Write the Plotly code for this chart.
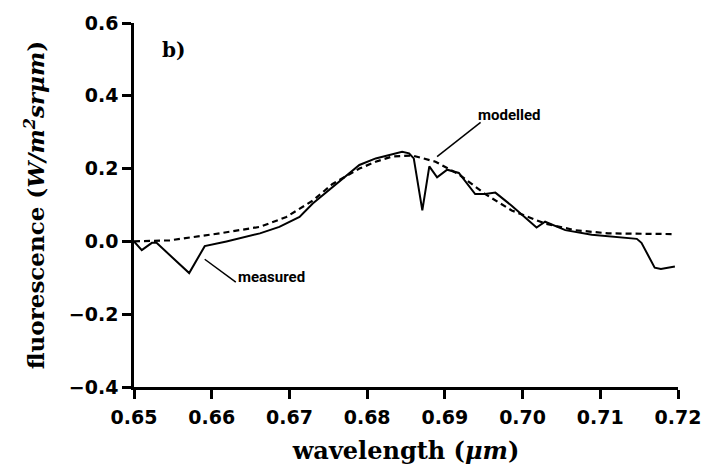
import plotly.graph_objects as go

# Measured fluorescence spectrum (solid line)
measured_wl = [0.6500, 0.6510, 0.6523, 0.6529, 0.6571, 0.6591, 0.6619, 0.6636,
               0.6662, 0.6687, 0.6713, 0.6730, 0.6755, 0.6790, 0.6811, 0.6845,
               0.6854, 0.6860, 0.6871, 0.6880, 0.6890, 0.6903, 0.6918, 0.6939,
               0.6952, 0.6965, 0.6986, 0.7018, 0.7029, 0.7055, 0.7089, 0.7114,
               0.7147, 0.7153, 0.7170, 0.7178, 0.7196]
measured_fl = [0.000, -0.024, -0.004, -0.004, -0.087, -0.013, 0.000, 0.009,
               0.022, 0.040, 0.067, 0.104, 0.148, 0.210, 0.228, 0.246,
               0.242, 0.228, 0.085, 0.206, 0.176, 0.197, 0.188, 0.130,
               0.130, 0.134, 0.098, 0.038, 0.054, 0.031, 0.018, 0.013,
               0.007, -0.004, -0.072, -0.076, -0.069]

# Modelled fluorescence spectrum (dashed line)
modelled_wl = [0.6500, 0.6546, 0.6610, 0.6662, 0.6696, 0.6730, 0.6755, 0.6790,
               0.6811, 0.6832, 0.6858, 0.6888, 0.6918, 0.6952, 0.6986, 0.7029,
               0.7067, 0.7110, 0.7196]
modelled_fl = [0.000, 0.003, 0.022, 0.040, 0.067, 0.112, 0.157, 0.200,
               0.219, 0.233, 0.236, 0.219, 0.184, 0.130, 0.085, 0.049,
               0.031, 0.022, 0.020]

x_ticks = [0.65, 0.66, 0.67, 0.68, 0.69, 0.70, 0.71, 0.72]
x_tick_text = ["0.65", "0.66", "0.67", "0.68", "0.69", "0.70", "0.71", "0.72"]
y_ticks = [-0.4, -0.2, 0.0, 0.2, 0.4, 0.6]
y_tick_text = ["\u22120.4", "\u22120.2", "0.0", "0.2", "0.4", "0.6"]

serif = "DejaVu Serif, Liberation Serif, serif"
tick_font = dict(family="DejaVu Sans, Liberation Sans, sans-serif", size=19,
                 color="black", weight="bold")
label_font = dict(family="Roboto, Liberation Sans, sans-serif",
                  size=15, color="black", weight="bold")

fig = go.Figure()
fig.add_trace(go.Scatter(x=modelled_wl, y=modelled_fl, mode="lines",
                         line=dict(color="black", width=2.2, dash="6px,4px"),
                         showlegend=False, hoverinfo="skip"))
fig.add_trace(go.Scatter(x=measured_wl, y=measured_fl, mode="lines",
                         line=dict(color="black", width=2),
                         showlegend=False, hoverinfo="skip"))

# Labels with leader lines
fig.add_annotation(x=0.6551, y=0.525, text="b)", showarrow=False,
                   font=dict(family=serif, size=20, color="black", weight="bold"))
fig.add_annotation(x=0.6983, y=0.348, text="modelled", showarrow=False,
                   font=label_font)
fig.add_annotation(x=0.6677, y=-0.098, text="measured", showarrow=False,
                   font=label_font)
fig.add_shape(type="line", x0=0.6946, y0=0.327, x1=0.6890, y1=0.233,
              line=dict(color="black", width=1.5))
fig.add_shape(type="line", x0=0.6631, y0=-0.112, x1=0.6591, y1=-0.049,
              line=dict(color="black", width=1.5))

fig.update_layout(
    width=713, height=472,
    margin=dict(l=134, r=33, t=16, b=84),
    paper_bgcolor="white", plot_bgcolor="white",
    xaxis=dict(
        range=[0.65, 0.72], tickvals=x_ticks, ticktext=x_tick_text,
        showgrid=False, zeroline=False, showline=True, linecolor="black",
        linewidth=2.5, ticks="outside", ticklen=9, tickwidth=2.5,
        tickcolor="black", tickfont=tick_font, ticklabelstandoff=2,
        title=dict(text="wavelength (<i>\u03bcm</i>)",
                   font=dict(family=serif, size=24, color="black", weight="bold"),
                   standoff=16),
    ),
    yaxis=dict(
        range=[-0.4, 0.6], tickvals=y_ticks, ticktext=y_tick_text,
        showgrid=False, zeroline=False, showline=True, linecolor="black",
        linewidth=2.5, ticks="outside", ticklen=9, tickwidth=2.5,
        tickcolor="black", tickfont=tick_font,
        title=dict(text="fluorescence (<i>W/m<sup>2</sup>sr\u03bcm</i>)",
                   font=dict(family=serif, size=23, color="black", weight="bold"),
                   standoff=18),
    ),
)

fig.write_html("out.html")
